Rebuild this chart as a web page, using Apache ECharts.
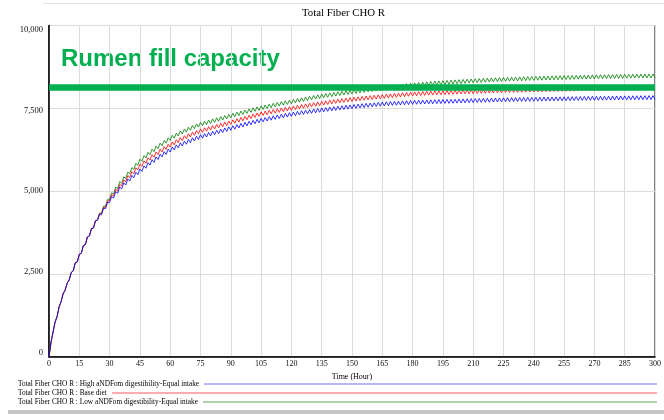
<!DOCTYPE html>
<html><head><meta charset="utf-8">
<script src="https://cdn.jsdelivr.net/npm/echarts@6/dist/echarts.min.js"></script>
<style>html,body{margin:0;padding:0;background:#fff}#c{width:664px;height:420px}</style>
</head><body><div id="c"></div>
<script>
const chartTitle = 'Total Fiber CHO R';
const xAxisName = 'Time (Hour)';
const annotationText = 'Rumen fill capacity';
const legendLabels = [
  'Total Fiber CHO R : High aNDFom digestibility-Equal intake',
  'Total Fiber CHO R : Base diet',
  'Total Fiber CHO R : Low aNDFom digestibility-Equal intake'
];
const yTicks = [0, 2500, 5000, 7500, 10000];
const xTicks = [0,15,30,45,60,75,90,105,120,135,150,165,180,195,210,225,240,255,270,285,300];
const rumenFillCapacity = 8130;

// hourly values, t = 0..300 h
const highDigestibility = [
0,450,750,1050,1220,1510,1670,1910,2020,2230,2320,2550,2600,2840,2870,3100,3130,3360,3390,3620,3650,3870,3890,4110,4130,
4300,4292,4484,4476,4668,4660,
4842,4794,4986,4938,5130,5070,5250,5190,5370,5310,
5478,5406,5574,5502,5670,5598,5766,5694,5862,5790,
5952,5874,6036,5958,6120,6037,6194,6111,6268,6185,
6336,6247,6398,6309,6460,6366,6512,6418,6564,6470,
6613,6516,6659,6562,6705,6602,6739,6636,6773,6670,
6807,6704,6841,6738,6875,6772,6909,6806,6943,6840,
6977,6874,7011,6908,7045,6941,7077,6973,7109,7005,
7140,7035,7170,7065,7200,7093,7226,7119,7252,7145,
7277,7169,7301,7193,7325,7216,7347,7238,7369,7260,
7390,7280,7410,7300,7430,7318,7446,7334,7462,7350,
7478,7366,7494,7382,7510,7397,7524,7411,7538,7425,
7552,7439,7566,7453,7580,7466,7592,7478,7604,7490,
7616,7502,7628,7514,7640,7525,7650,7535,7660,7545,
7670,7555,7680,7565,7690,7574,7698,7582,7706,7590,
7713,7596,7719,7602,7725,7608,7731,7614,7737,7620,
7742,7624,7746,7628,7750,7632,7754,7636,7758,7640,
7762,7643,7765,7646,7768,7649,7771,7652,7774,7655,
7777,7659,7781,7663,7785,7667,7789,7671,7793,7675,
7797,7678,7800,7681,7803,7684,7806,7687,7809,7690,
7812,7693,7815,7696,7818,7699,7821,7702,7824,7705,
7826,7707,7828,7709,7830,7711,7832,7713,7834,7715,
7836,7717,7838,7719,7840,7721,7842,7723,7844,7725,
7846,7727,7848,7729,7850,7731,7852,7733,7854,7735,
7856,7737,7858,7739,7860,7741,7862,7743,7864,7745,
7866,7746,7867,7748,7868,7749,7870,7750,7871,7752,
7873,7754,7874,7755,7876,7757,7878,7758,7879,7760,
7881,7761,7882,7762,7883,7763,7884,7764,7885,7765
];
const baseDiet = [
0,450,750,1050,1220,1510,1670,1910,2020,2230,2320,2550,2600,2840,2870,3100,3130,3360,3390,3620,3650,3870,3890,4110,4130,
4320,4318,4516,4514,4712,4710,
4898,4856,5054,5012,5210,5156,5342,5288,5474,5420,
5596,5532,5708,5644,5820,5748,5916,5844,6012,5940,
6102,6024,6186,6108,6270,6187,6344,6261,6418,6335,
6488,6401,6554,6467,6620,6528,6676,6584,6732,6640,
6784,6688,6832,6736,6880,6777,6914,6811,6948,6845,
6982,6879,7016,6913,7050,6947,7084,6981,7118,7015,
7153,7051,7189,7087,7225,7122,7259,7156,7293,7190,
7327,7224,7361,7258,7395,7287,7419,7311,7443,7335,
7466,7357,7488,7379,7510,7400,7530,7420,7550,7440,
7571,7462,7593,7484,7615,7505,7635,7525,7655,7545,
7674,7563,7692,7581,7710,7599,7728,7617,7746,7635,
7763,7651,7779,7667,7795,7682,7809,7696,7823,7710,
7836,7722,7848,7734,7860,7746,7872,7758,7884,7770,
7895,7780,7905,7790,7915,7801,7927,7813,7939,7825,
7950,7835,7960,7845,7970,7855,7980,7865,7990,7875,
7998,7881,8004,7887,8010,7893,8016,7899,8022,7905,
8027,7909,8031,7913,8035,7917,8039,7921,8043,7925,
8047,7929,8051,7933,8055,7937,8059,7941,8063,7945,
8067,7949,8071,7953,8075,7957,8079,7961,8083,7965,
8087,7968,8090,7971,8093,7974,8096,7977,8099,7980,
8102,7983,8105,7986,8108,7989,8111,7992,8114,7995,
8117,7998,8120,8001,8123,8004,8126,8007,8129,8010,
8131,8012,8133,8014,8135,8016,8137,8018,8139,8020,
8141,8022,8143,8024,8145,8026,8147,8028,8149,8030,
8151,8032,8153,8034,8155,8036,8157,8038,8159,8040,
8161,8042,8162,8043,8164,8045,8166,8046,8167,8048,
8169,8049,8170,8051,8171,8052,8173,8053,8174,8055
];
const lowDigestibility = [
0,450,750,1050,1220,1510,1670,1910,2020,2230,2320,2550,2600,2840,2870,3100,3130,3360,3390,3620,3650,3870,3890,4110,4130,
4340,4344,4548,4552,4756,4760,
4954,4918,5122,5086,5290,5242,5434,5386,5578,5530,
5714,5658,5842,5786,5970,5901,6072,6003,6174,6105,
6270,6195,6360,6285,6450,6371,6532,6453,6614,6535,
6688,6601,6754,6667,6820,6728,6876,6784,6932,6840,
6984,6888,7032,6936,7080,6977,7114,7011,7148,7045,
7182,7079,7216,7113,7250,7147,7284,7181,7318,7215,
7352,7249,7386,7283,7420,7316,7452,7348,7484,7380,
7515,7410,7545,7440,7575,7468,7601,7494,7627,7520,
7653,7546,7679,7572,7705,7596,7727,7618,7749,7640,
7772,7664,7796,7688,7820,7712,7844,7736,7868,7760,
7890,7780,7910,7800,7930,7819,7948,7837,7966,7855,
7983,7871,7999,7887,8015,7903,8031,7919,8047,7935,
8063,7951,8079,7967,8095,7982,8109,7996,8123,8010,
8137,8024,8151,8038,8165,8052,8179,8066,8193,8080,
8207,8094,8221,8108,8235,8121,8247,8133,8259,8145,
8270,8155,8280,8165,8290,8175,8300,8185,8310,8195,
8319,8203,8327,8211,8335,8219,8343,8227,8351,8235,
8359,8242,8366,8249,8373,8256,8380,8263,8387,8270,
8393,8276,8399,8282,8405,8288,8411,8294,8417,8300,
8423,8305,8428,8310,8433,8315,8438,8320,8443,8325,
8447,8329,8451,8333,8455,8337,8459,8341,8463,8345,
8467,8348,8470,8351,8473,8354,8476,8357,8479,8360,
8482,8363,8485,8366,8488,8369,8491,8372,8494,8375,
8497,8378,8500,8381,8503,8384,8506,8387,8509,8390,
8511,8392,8514,8395,8516,8397,8518,8400,8521,8402,
8523,8404,8525,8406,8527,8408,8529,8410,8531,8412,
8533,8414,8534,8415,8536,8417,8538,8418,8539,8420
];

const SERIF = '"Liberation Serif", "Times New Roman", serif';
const colors = { high: '#0000ff', base: '#ff0000', low: '#008000' };
const legendLineColors = ['#6f6fff', '#ff5a5a', '#5aa85a'];

const chart = echarts.init(document.getElementById('c'), null, { renderer: 'canvas' });
const pairs = arr => arr.map((v, i) => [i, v]);

const LEG_FONT = '7.3px ' + SERIF;
const mctx = document.createElement('canvas').getContext('2d');
mctx.font = LEG_FONT;
const legendY = [384, 393, 402];
const legendGraphics = [];
legendLabels.forEach((t, i) => {
  const w = mctx.measureText(t).width;
  legendGraphics.push({ type: 'text', left: 18, top: legendY[i] - 3.2, silent: true, z: 10,
    style: { text: t, font: LEG_FONT, fill: '#000' } });
  legendGraphics.push({ type: 'line', silent: true, z: 11,
    shape: { x1: Math.round(18 + w + 5), y1: legendY[i], x2: 657, y2: legendY[i] },
    style: { stroke: legendLineColors[i], lineWidth: 1 } });
});

const yRich = { a: { padding: [9, 0, 0, 0] }, b: { padding: [5, 0, 0, 0] }, c: {}, d: { padding: [0, 0, 5, 0] }, e: { padding: [0, 0, 9, 0] } };
const yKeys = { 10000: 'a', 7500: 'b', 5000: 'c', 2500: 'd', 0: 'e' };

const lineSeries = (name, data, color, z) => ({
  name, type: 'line', data: pairs(data), showSymbol: false, z,
  lineStyle: { color, width: 1, opacity: 0.8 }, itemStyle: { color }
});

chart.setOption({
  animation: false,
  backgroundColor: '#fff',
  grid: { left: 49, right: 5, top: 25.5, bottom: 63, show: true, borderColor: '#000', borderWidth: 1, backgroundColor: 'transparent' },
  xAxis: {
    type: 'value', min: xTicks[0], max: xTicks[xTicks.length - 1], interval: 15,
    name: xAxisName, nameLocation: 'middle', nameGap: 12,
    nameTextStyle: { fontFamily: SERIF, fontSize: 8, color: '#000' },
    axisLine: { lineStyle: { color: '#000', width: 1.5 } },
    axisTick: { show: false },
    axisLabel: { fontFamily: SERIF, fontSize: 8, color: '#111', margin: 3, showMaxLabel: true, showMinLabel: true },
    splitLine: { show: true, lineStyle: { color: '#dcdcdc', width: 1 } }
  },
  yAxis: {
    type: 'value', min: yTicks[0], max: yTicks[yTicks.length - 1], interval: 2500,
    axisLine: { show: true, lineStyle: { color: '#000', width: 1.5 } },
    axisTick: { show: false },
    axisLabel: { fontFamily: SERIF, fontSize: 8.5, color: '#111', margin: 6,
      formatter: v => '{' + yKeys[v] + '|' + v.toLocaleString('en-US') + '}', rich: yRich },
    splitLine: { show: true, lineStyle: { color: '#dcdcdc', width: 1 } }
  },
  series: [
    lineSeries(legendLabels[2], lowDigestibility, colors.low, 2),
    lineSeries(legendLabels[1], baseDiet, colors.base, 3),
    lineSeries(legendLabels[0], highDigestibility, colors.high, 4),
    { name: annotationText, type: 'line', data: [[xTicks[0], rumenFillCapacity], [xTicks[xTicks.length - 1], rumenFillCapacity]],
      showSymbol: false, lineStyle: { color: '#00b050', width: 6.4, cap: 'butt' }, z: 5 }
  ],
  graphic: [
    { type: 'text', left: 302, top: 7.5, silent: true, style: { text: chartTitle, font: '10.8px ' + SERIF, fill: '#000' } },
    { type: 'text', x: 61, y: 59, silent: true, style: { text: annotationText, font: 'bold 24px "Liberation Sans", Arial, sans-serif', fill: '#00b050', verticalAlign: 'middle' } },
    { type: 'line', silent: true, shape: { x1: 43, y1: 3.5, x2: 664, y2: 3.5 }, style: { stroke: '#dde2ea', lineWidth: 1 } },
    { type: 'rect', silent: true, shape: { x: 8, y: 410, width: 656, height: 4 }, style: { fill: '#c6c6c6' } },
    ...legendGraphics
  ]
});
</script>
</body></html>
